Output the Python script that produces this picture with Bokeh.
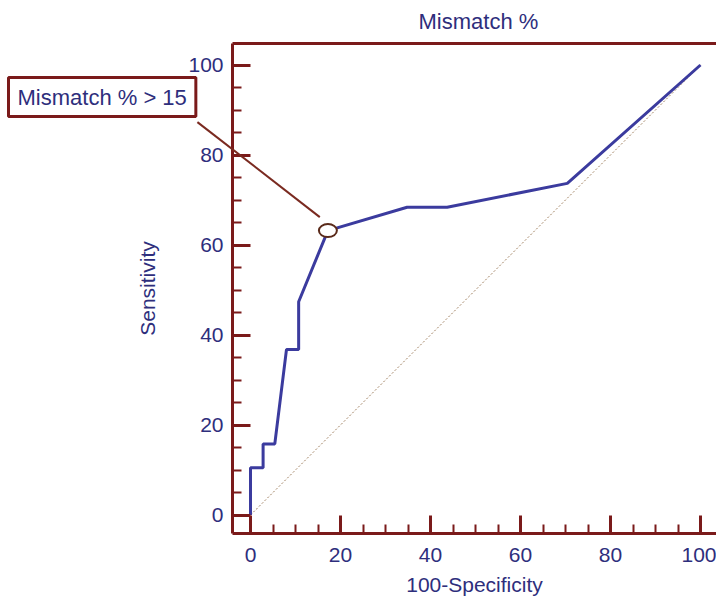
from bokeh.plotting import figure
from bokeh.models import Range1d, LinearAxis, Label, Arrow, FixedTicker
from bokeh.embed import file_html
from bokeh.resources import INLINE

# ROC curve (100-Specificity, Sensitivity)
fpr = [0, 0, 2.8, 2.8, 5.4, 8.0, 10.7, 10.7, 17.2, 34.8, 43.7, 70.4, 100]
tpr = [0, 10.5, 10.5, 15.8, 15.8, 36.8, 36.8, 47.4, 63.2, 68.4, 68.4, 73.7, 100]
diag_x = [0, 100]
diag_y = [0, 100]
major_ticks = [0, 20, 40, 60, 80, 100]
minor_ticks = [0, 5, 10, 15, 20, 25, 30, 35, 40, 45, 50, 55, 60, 65, 70, 75, 80, 85, 90, 95, 100]
crit_index = 8
crit_text = "Mismatch % > 15"
title_text = "Mismatch %"
x_label = "100-Specificity"
y_label = "Sensitivity"

AX = "#7a1a1a"
TXT = "#2e2e7c"
CURVE = "#3b3b9e"
FONT = "Liberation Sans"

X_LO, X_HI = -4, 103.56      # axis box extent (data units)
Y_LO, Y_HI = -4, 104.7

W, H, TOP = 716, 596, 35
PX = 4.5
x0_px, y0_px = 250, 514.5    # where data 0 sits on the canvas
x_range = Range1d(-x0_px / PX, (W - x0_px) / PX)
y_range = Range1d(-(H - y0_px) / PX, (y0_px - TOP) / PX)

p = figure(width=W, height=H, x_range=x_range, y_range=y_range,
           output_backend="svg", toolbar_location=None,
           min_border_left=0, min_border_right=0,
           min_border_top=TOP, min_border_bottom=0)
p.grid.visible = False
p.outline_line_color = None
p.background_fill_color = "white"

p.title.text = title_text
p.title.align = "left"
p.title.offset = 418
p.title.standoff = 3
p.title.text_font = FONT
p.title.text_font_size = "22px"
p.title.text_font_style = "normal"
p.title.text_color = TXT

xa, ya = p.xaxis[0], p.yaxis[0]
xa.fixed_location = Y_LO
xa.bounds = (X_LO, X_HI)
ya.fixed_location = X_LO
ya.bounds = (Y_LO, Y_HI)

for ax in (xa, ya):
    ax.ticker = FixedTicker(ticks=major_ticks, minor_ticks=minor_ticks)
    ax.axis_line_color = AX
    ax.axis_line_width = 3
    ax.major_tick_line_color = AX
    ax.major_tick_line_width = 3
    ax.minor_tick_line_color = AX
    ax.minor_tick_line_width = 2
    ax.major_tick_in = 18
    ax.major_tick_out = 0
    ax.minor_tick_in = 9
    ax.minor_tick_out = 0
    ax.major_label_text_font = FONT
    ax.major_label_text_font_size = "21px"
    ax.major_label_text_color = TXT
    ax.axis_label_text_font = FONT
    ax.axis_label_text_font_size = "21px"
    ax.axis_label_text_font_style = "normal"
    ax.axis_label_text_color = TXT

xa.axis_label = x_label
xa.major_label_standoff = 15
xa.axis_label_standoff = 7
ya.axis_label = y_label
ya.major_label_standoff = 9
ya.axis_label_standoff = 26

top = LinearAxis(ticker=FixedTicker(ticks=[]), axis_line_color=AX, axis_line_width=3,
                 major_tick_in=0, major_tick_out=0, minor_tick_in=0, minor_tick_out=0,
                 major_label_text_font_size="0px",
                 fixed_location=Y_HI, bounds=(X_LO, X_HI))
p.add_layout(top, "above")

p.line(diag_x, diag_y, line_color="#a08060", line_width=1, line_dash="2 2")
p.line(fpr, tpr, line_color=CURVE, line_width=3)

cx, cy = fpr[crit_index], tpr[crit_index]
p.ellipse(x=[cx], y=[cy], width=18, height=13, width_units="screen", height_units="screen",
          fill_color="white", line_color="#5a2a1a", line_width=2)

p.add_layout(Arrow(end=None, x_start=-11.8, y_start=87.3, x_end=cx - 1.8, y_end=cy + 3.0,
                   line_color="#7a2a20", line_width=2))

p.add_layout(Label(x=8, y=H - 116, x_units="screen", y_units="screen", text=crit_text,
                   anchor="bottom_left",
                   text_font=FONT, text_font_size="22px", text_color=TXT,
                   text_align="left", text_baseline="bottom",
                   border_line_color=AX, border_line_width=3,
                   background_fill_color="white", padding=(9, 7)))

open("out.html", "w").write(file_html(p, INLINE))
